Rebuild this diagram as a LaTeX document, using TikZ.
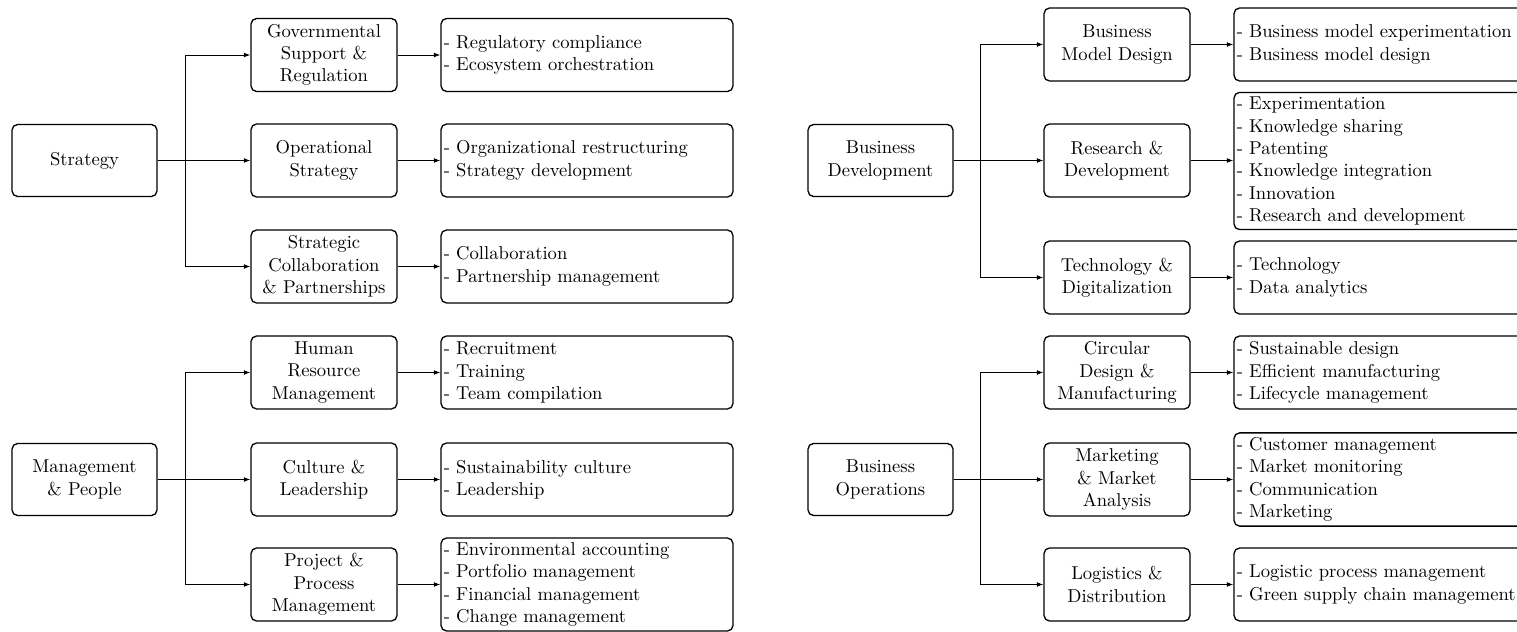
\documentclass[tikz,border=0pt]{standalone}
\usetikzlibrary{arrows.meta}
\newcommand\pxu{0.5376pt}
\begin{document}
\begin{tikzpicture}[x=\pxu,y=\pxu,
  every node/.style={font=\normalsize},
  topbox/.style={draw,line width=0.7pt,rounded corners=3pt,minimum width=145*\pxu,minimum height=72*\pxu,align=center,inner sep=2pt},
  midbox/.style={draw,line width=0.7pt,rounded corners=3pt,minimum width=146*\pxu,minimum height=73*\pxu,align=center,inner sep=2pt},
  listbox/.style={draw,line width=0.7pt,rounded corners=3pt,text width=292*\pxu-3pt,minimum height=73*\pxu,align=left,inner xsep=1.5pt,inner ysep=2.5pt},
  link/.style={line width=0.5pt,-{Latex[length=3.5pt,width=2.6pt]}}]
\useasboundingbox (0,0) rectangle (1517,-632);
\clip (0,0) rectangle (1517,-632);

% ---------- Strategy ----------
\node[topbox] (str) at (84.5,-160.5) {Strategy};
\node[midbox] (gov) at (324,-55) {Governmental\\Support \&\\Regulation};
\node[midbox] (ops) at (324,-160.5) {Operational\\Strategy};
\node[midbox] (scp) at (324,-266.5) {Strategic\\Collaboration\\\& Partnerships};
\node[listbox] (govl) at (587,-55) {- Regulatory compliance\\- Ecosystem orchestration};
\node[listbox] (opsl) at (587,-160.5) {- Organizational restructuring\\- Strategy development};
\node[listbox] (scpl) at (587,-266.5) {- Collaboration\\- Partnership management};
\coordinate (strb) at (185,-160.5);
\draw[link] (str.east) -- (ops.west);
\draw[link] (str.east) -- (strb) |- (gov.west);
\draw[link] (str.east) -- (strb) |- (scp.west);
\draw[link] (gov) -- (govl);
\draw[link] (ops) -- (opsl);
\draw[link] (scp) -- (scpl);

% ---------- Management & People ----------
\node[topbox] (mp) at (84.5,-479.5) {Management\\\& People};
\node[midbox] (hrm) at (324,-372.5) {Human\\Resource\\Management};
\node[midbox] (cul) at (324,-479.5) {Culture \&\\Leadership};
\node[midbox] (ppm) at (324,-584.5) {Project \&\\Process\\Management};
\node[listbox] (hrml) at (587,-372.5) {- Recruitment\\- Training\\- Team compilation};
\node[listbox] (cull) at (587,-479.5) {- Sustainability culture\\- Leadership};
\node[listbox] (ppml) at (587,-584.5) {- Environmental accounting\\- Portfolio management\\- Financial management\\- Change management};
\coordinate (mpb) at (185,-479.5);
\draw[link] (mp.east) -- (cul.west);
\draw[link] (mp.east) -- (mpb) |- (hrm.west);
\draw[link] (mp.east) -- (mpb) |- (ppm.west);
\draw[link] (hrm) -- (hrml);
\draw[link] (cul) -- (cull);
\draw[link] (ppm) -- (ppml);

% ---------- Business Development ----------
\node[topbox] (bd) at (880.5,-160.5) {Business\\Development};
\node[midbox] (bmd) at (1117,-44.5) {Business\\Model Design};
\node[midbox] (rd) at (1117,-160.5) {Research \&\\Development};
\node[midbox] (td) at (1117,-277.5) {Technology \&\\Digitalization};
\node[listbox] (bmdl) at (1380,-44.5) {- Business model experimentation\\- Business model design};
\node[listbox] (rdl) at (1380,-161) {- Experimentation\\- Knowledge sharing\\- Patenting\\- Knowledge integration\\- Innovation\\- Research and development};
\node[listbox] (tdl) at (1380,-277.5) {- Technology\\- Data analytics};
\coordinate (bdb) at (980,-160.5);
\draw[link] (bd.east) -- (rd.west);
\draw[link] (bd.east) -- (bdb) |- (bmd.west);
\draw[link] (bd.east) -- (bdb) |- (td.west);
\draw[link] (bmd) -- (bmdl);
\draw[link] (rd) -- (rd.east -| rdl.west);
\draw[link] (td) -- (tdl);

% ---------- Business Operations ----------
\node[topbox] (bo) at (880.5,-479.5) {Business\\Operations};
\node[midbox] (cdm) at (1117,-372.5) {Circular\\Design \&\\Manufacturing};
\node[midbox] (mma) at (1117,-479.5) {Marketing\\\& Market\\Analysis};
\node[midbox] (ld) at (1117,-584.5) {Logistics \&\\Distribution};
\node[listbox] (cdml) at (1380,-372.5) {- Sustainable design\\- Efficient manufacturing\\- Lifecycle management};
\node[listbox] (mmal) at (1380,-479.5) {- Customer management\\- Market monitoring\\- Communication\\- Marketing};
\node[listbox] (ldl) at (1380,-584.5) {- Logistic process management\\- Green supply chain management};
\coordinate (bob) at (980,-479.5);
\draw[link] (bo.east) -- (mma.west);
\draw[link] (bo.east) -- (bob) |- (cdm.west);
\draw[link] (bo.east) -- (bob) |- (ld.west);
\draw[link] (cdm) -- (cdml);
\draw[link] (mma) -- (mmal);
\draw[link] (ld) -- (ldl);
\end{tikzpicture}
\end{document}
